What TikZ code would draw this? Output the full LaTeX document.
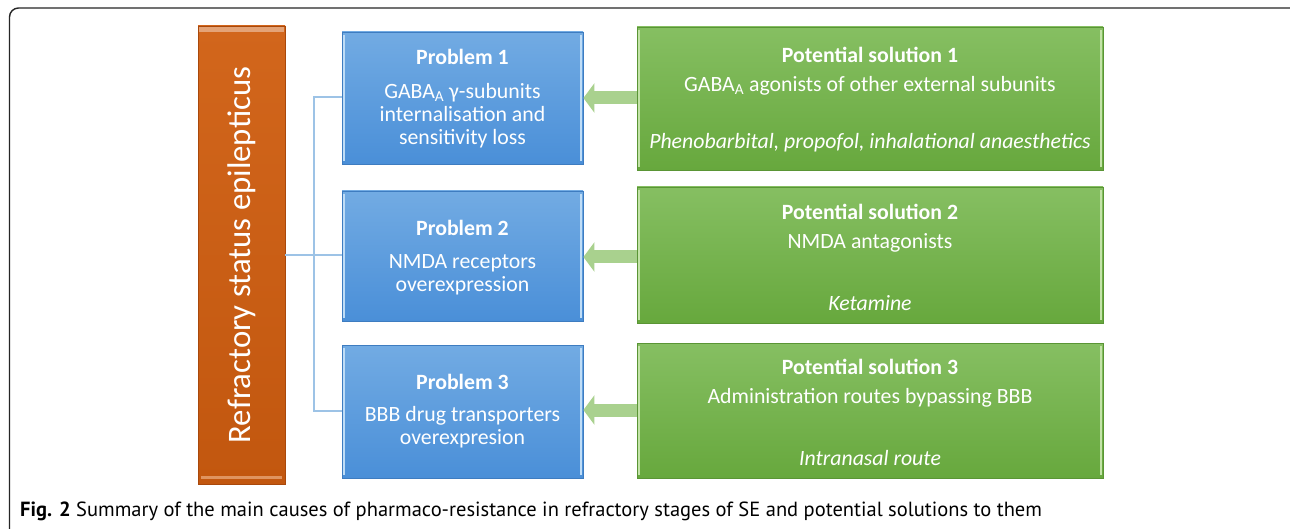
\documentclass[tikz,border=0pt]{standalone}
\usepackage{fontspec}
\setmainfont{Carlito}
\newfontfamily\capfont{PT Sans}
\usetikzlibrary{arrows.meta,calc}
\definecolor{orgTop}{HTML}{D2661C}
\definecolor{orgBot}{HTML}{C2570F}
\definecolor{orgLine}{HTML}{A9480B}
\definecolor{bluTop}{HTML}{72ABE3}
\definecolor{bluBot}{HTML}{4A8FD8}
\definecolor{bluLine}{HTML}{3E7CC0}
\definecolor{bluHi}{HTML}{BFDDF7}
\definecolor{grnTop}{HTML}{86BF62}
\definecolor{grnBot}{HTML}{67A83D}
\definecolor{grnLine}{HTML}{5A9535}
\definecolor{grnHi}{HTML}{C3E3A8}
\definecolor{arrGreen}{HTML}{A9D18E}
\definecolor{conBlue}{HTML}{9DC3E6}
\tikzset{
  orangebox/.style={draw=orgLine, line width=0.8pt, top color=orgTop, bottom color=orgBot, minimum width=87pt, minimum height=458pt, inner sep=0pt},
  probbox/.style={draw=bluLine, line width=0.8pt, top color=bluTop, bottom color=bluBot, minimum width=241pt, inner sep=0pt},
  solbox/.style={draw=grnLine, line width=0.8pt, top color=grnTop, bottom color=grnBot, minimum width=466pt, inner sep=0pt},
  boxtext/.style={text=white, font=\fontsize{21.8}{23}\selectfont, align=center, inner sep=0pt},
  boxhead/.style={boxtext, font=\fontsize{21.8}{23}\selectfont\bfseries},
  boxital/.style={boxtext, font=\fontsize{21.8}{23}\selectfont\itshape},
  bigarrow/.style={arrGreen, line width=13pt, -{Triangle[width=29pt,length=11pt]}},
  conn/.style={conBlue, line width=1.2pt},
  frameline/.style={draw=black!85, line width=1.4pt, rounded corners=9pt},
}
\begin{document}
\begin{tikzpicture}[x=1pt,y=-1pt]
\useasboundingbox (0,0) rectangle (1290,529);
\fill[white] (0,0) rectangle (1290,529);
\begin{scope}
\clip (0,0) rectangle (1290,529);
\draw[frameline] (9.5,8) rectangle (1300,540);
\end{scope}

% orange
\node[orangebox] (ref) at (241.5,255) {};
\fill[orgTop!60!white] ($(ref.north west)+(1,1)$) rectangle ($(ref.north east)+(-1,6)$);
\fill[orgTop!70!white] ($(ref.south west)+(3,-8)$) rectangle ($(ref.south east)+(-3,-5)$);
\node[rotate=90, text=white, font=\fontsize{32.8}{36}\selectfont, inner sep=0pt] (reftext) at (ref.center) {Refractory status epilepticus};

% problems
\node[probbox, minimum height=132pt] (p1) at (462.5,98) {};
\node[probbox, minimum height=130pt] (p2) at (462.5,256) {};
\node[probbox, minimum height=133pt] (p3) at (462.5,411.5) {};
% solutions
\node[solbox, minimum height=143pt] (s1) at (870,98.5) {};
\node[solbox, minimum height=136pt] (s2) at (870,255) {};
\node[solbox, minimum height=135pt] (s3) at (870,410.5) {};

\foreach \b in {p1,p2,p3}{
  \draw[bluHi, line width=1.5pt] ($(\b.north west)+(2.5,3)$) -- ($(\b.south west)+(2.5,-3)$);
  \draw[bluHi, line width=1.5pt] ($(\b.north east)+(-2.5,3)$) -- ($(\b.south east)+(-2.5,-3)$);
}
\foreach \b in {s1,s2,s3}{
  \draw[grnHi, line width=1.5pt] ($(\b.north west)+(2.5,3)$) -- ($(\b.south west)+(2.5,-3)$);
  \draw[grnHi, line width=1.5pt] ($(\b.north east)+(-2.5,3)$) -- ($(\b.south east)+(-2.5,-3)$);
}

% problem texts
\node[boxhead] (p1h) at (462.5,57) {Problem 1};
\node[boxtext] (p1t) at (462.5,116) {GABA\textsubscript{A} γ-subunits\\internalisation and\\sensitivity loss};
\node[boxhead] (p2h) at (462.5,228) {Problem 2};
\node[boxtext] (p2t) at (462.5,275) {NMDA receptors\\overexpression};
\node[boxhead] (p3h) at (462.5,382) {Problem 3};
\node[boxtext] (p3t) at (462.5,427) {BBB drug transporters\\overexpresion};

% solution texts
\node[boxhead] (s1h) at (870,55) {Potential solution 1};
\node[boxtext] (s1t) at (870,86) {GABA\textsubscript{A} agonists of other external subunits};
\node[boxital] (s1i) at (870,143) {Phenobarbital,\ propofol,\ inhalational anaesthetics};
\node[boxhead] (s2h) at (870,212) {Potential solution 2};
\node[boxtext] (s2t) at (870,243) {NMDA antagonists};
\node[boxital] (s2i) at (870,303) {Ketamine};
\node[boxhead] (s3h) at (870,367) {Potential solution 3};
\node[boxtext] (s3t) at (870,398) {Administration routes bypassing BBB};
\node[boxital] (s3i) at (870,458) {Intranasal route};

% arrows
\draw[bigarrow] (s1.west |- 0,98) -- (p1.east |- 0,98);
\draw[bigarrow] (s2.west |- 0,257) -- (p2.east |- 0,257);
\draw[bigarrow] (s3.west |- 0,410) -- (p3.east |- 0,410);

% connectors
\coordinate (jn) at (314,255);
\draw[conn] (ref.east |- jn) -- (jn);
\draw[conn] (jn) |- (p1.west |- 0,97);
\draw[conn] (jn) -- (p2.west |- jn);
\draw[conn] (jn) |- (p3.west |- 0,411);

% caption
\node[anchor=west, inner sep=0pt, font=\capfont\fontsize{20.5}{22}\selectfont] (cap) at (20,511) {\textbf{Fig. 2} Summary of the main causes of pharmaco-resistance in refractory stages of SE and potential solutions to them};
\end{tikzpicture}
\end{document}
